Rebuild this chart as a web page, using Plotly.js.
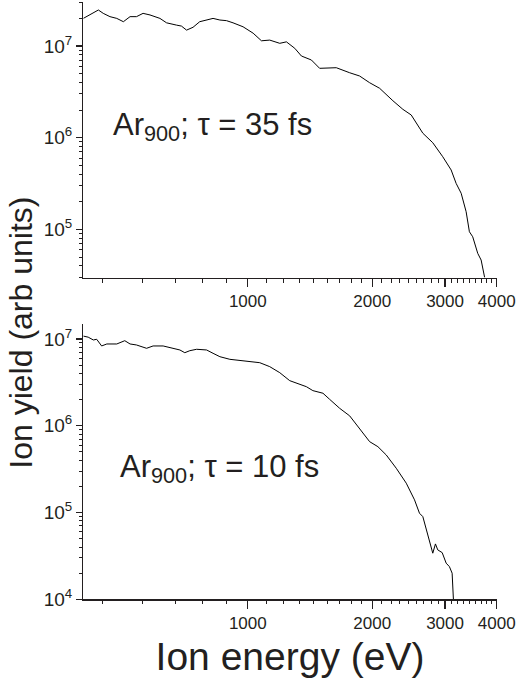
<!DOCTYPE html>
<html>
<head>
<meta charset="utf-8">
<script src="https://cdn.plot.ly/plotly-3.0.1.min.js"></script>
<style>html,body{margin:0;padding:0;background:#fff;}#chart{width:519px;height:693px;}</style>
</head>
<body>
<div id="chart"></div>
<script>
// Ion energy (eV) and ion yield (arb units), tau = 35 fs
var energy35 = [400,415,435,447,464,482,500,519,538,558,580,613,636,672,691,711,737,765,795,824,856,888,921,974,1030,1079,1130,1195,1240,1299,1348,1425,1492,1577,1637,1764,1864,1971,2084,2244,2372,2485,2555,2651,2802,2962,3104,3191,3282,3374,3436,3500,3599,3668,3740];
var yield35 = [2.00e7,2.18e7,2.47e7,2.27e7,2.09e7,2.00e7,1.84e7,2.09e7,2.09e7,2.27e7,2.18e7,2.00e7,1.79e7,1.69e7,1.65e7,1.49e7,1.60e7,1.84e7,1.92e7,2.00e7,1.92e7,1.89e7,1.79e7,1.62e7,1.38e7,1.14e7,1.16e7,1.07e7,1.11e7,9.44e6,7.78e6,7.04e6,5.71e6,5.71e6,5.80e6,5.11e6,4.71e6,3.98e6,3.46e6,2.53e6,2.04e6,1.77e6,1.44e6,1.12e6,8.82e5,6.21e5,4.45e5,3.18e5,2.48e5,1.56e5,9.44e4,8.32e4,5.49e4,4.64e4,3.0e4];

// tau = 10 fs
var energy10 = [400,411,423,431,443,456,482,504,519,538,569,590,624,660,685,704,724,752,795,824,856,905,939,974,1030,1069,1130,1195,1263,1322,1386,1437,1520,1577,1668,1764,1864,1971,2064,2162,2286,2417,2531,2602,2651,2701,2751,2802,2844,2881,2953,3019,3074,3121,3144];
var yield10 = [1.08e7,1.05e7,9.74e6,9.92e6,8.31e6,8.76e6,8.76e6,9.56e6,8.76e6,8.53e6,7.81e6,8.31e6,8.31e6,7.81e6,7.47e6,6.95e6,7.33e6,7.61e6,7.47e6,6.84e6,6.25e6,5.83e6,5.73e6,5.62e6,5.48e6,5.33e6,4.80e6,4.09e6,3.31e6,3.09e6,2.82e6,2.54e6,2.37e6,2.02e6,1.59e6,1.30e6,9.36e5,6.56e5,5.74e5,4.61e5,3.24e5,2.18e5,1.40e5,9.82e4,8.97e4,6.30e4,4.83e4,3.40e4,4.35e4,3.71e4,3.45e4,2.61e4,2.38e4,2.00e4,9.8e3];

// tick labels and texts
var xTickVals = [1000,2000,3000,4000];
var xTickText = ['1000','2000','3000','4000'];
var yTickVals = [1e4,1e5,1e6,1e7];
var yTickText = ['10<sup>4</sup>','10<sup>5</sup>','10<sup>6</sup>','10<sup>7</sup>'];
var panelLabels = ['Ar<sub>900</sub>; τ = 35 fs', 'Ar<sub>900</sub>; τ = 10 fs'];
var xTitle = 'Ion energy (eV)';
var yTitle = 'Ion yield (arb units)';

// minor ticks (axis decoration)
var xMinor = [];
for (var k = 0; k < 4; k++) { for (var m = 1; m < 9; m++) { var v = k*1000 + m*1000/9; if (v > 400 && v < 4000) xMinor.push(v); } }
var yMinor = [];
for (var d = 4; d <= 7; d++) { for (var j = 2; j <= 9; j++) yMinor.push(j*Math.pow(10,d)); }

var ink = '#231f20';
var font = 'Liberation Sans, Arial, Helvetica, sans-serif';
var xRange = [Math.log10(400), Math.log10(4000)];
var xDomain = [0.1605, 0.957];
var topRange = [4.474, 7.485], topDomain = [0.5993, 0.9978];
var botRange = [4, 7.173], botDomain = [0.1352, 0.5325];

function xMajor(anchor) {
  return { type:'log', range:xRange, domain:xDomain, anchor:anchor,
    showline:true, linecolor:ink, linewidth:1.3, showgrid:false, zeroline:false,
    ticks:'outside', ticklen:8, tickwidth:1.2, tickcolor:ink,
    tickmode:'array', tickvals:xTickVals, ticktext:xTickText,
    tickfont:{family:font, size:17, color:ink} };
}
function xMinorAxis(anchor, over) {
  return { type:'log', range:xRange, domain:xDomain, anchor:anchor, overlaying:over,
    showline:false, showgrid:false, zeroline:false, showticklabels:false,
    ticks:'outside', ticklen:4, tickwidth:1, tickcolor:ink, tickmode:'array', tickvals:xMinor };
}
function yMajor(anchor, range, domain) {
  return { type:'log', range:range, domain:domain, anchor:anchor,
    showline:true, linecolor:ink, linewidth:1.3, showgrid:false, zeroline:false,
    ticks:'outside', ticklen:6, tickwidth:1.2, tickcolor:ink,
    tickmode:'array', tickvals:yTickVals, ticktext:yTickText,
    tickfont:{family:font, size:19, color:ink} };
}
function yMinorAxis(anchor, over, range, domain) {
  return { type:'log', range:range, domain:domain, anchor:anchor, overlaying:over,
    showline:false, showgrid:false, zeroline:false, showticklabels:false,
    ticks:'outside', ticklen:3, tickwidth:1, tickcolor:ink, tickmode:'array', tickvals:yMinor };
}

var bottomX = xMajor('y2');
bottomX.title = {text:xTitle, font:{family:font, size:39, color:ink}, standoff:10};

var traces = [
  {x:energy35, y:yield35, type:'scatter', mode:'lines', line:{color:'#000', width:1}, xaxis:'x', yaxis:'y', showlegend:false},
  {x:energy10, y:yield10, type:'scatter', mode:'lines', line:{color:'#000', width:1}, xaxis:'x2', yaxis:'y2', showlegend:false},
  {x:[], y:[], type:'scatter', mode:'lines', xaxis:'x3', yaxis:'y3', showlegend:false},
  {x:[], y:[], type:'scatter', mode:'lines', xaxis:'x4', yaxis:'y4', showlegend:false},
  // panel labels placed on a page-sized helper subplot (pixel units)
  {x:[113, 120], y:[127, 469], text:panelLabels, type:'scatter', mode:'text', textposition:'middle right',
   textfont:{family:font, size:31, color:ink}, xaxis:'x5', yaxis:'y5', showlegend:false, cliponaxis:false}
];

var layout = {
  width:519, height:693, margin:{l:0, r:0, t:0, b:0},
  paper_bgcolor:'#fff', plot_bgcolor:'rgba(0,0,0,0)', font:{family:font, color:ink}, showlegend:false,
  xaxis: xMajor('y'), yaxis: yMajor('x', topRange, topDomain),
  xaxis2: bottomX, yaxis2: yMajor('x2', botRange, botDomain),
  xaxis3: xMinorAxis('y3', 'x'), yaxis3: yMinorAxis('x3', 'y', topRange, topDomain),
  xaxis4: xMinorAxis('y4', 'x2'), yaxis4: yMinorAxis('x4', 'y2', botRange, botDomain),
  xaxis5: {domain:[52/519, 1], range:[52, 519], anchor:'y5', visible:true, showline:false, showgrid:false, zeroline:false, showticklabels:false, ticks:''},
  yaxis5: {domain:[0.04, 1], range:[665, 0], anchor:'x5', showline:false, showgrid:false, zeroline:false, showticklabels:false, ticks:'',
           title:{text:yTitle, font:{family:font, size:32, color:ink}, standoff:8}}
};

Plotly.newPlot('chart', traces, layout, {staticPlot:true});
</script>
</body>
</html>
